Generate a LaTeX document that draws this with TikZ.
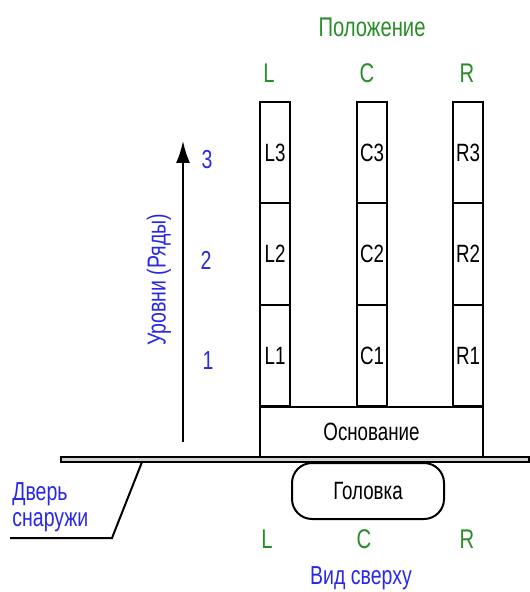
\documentclass[tikz,border=0pt]{standalone}
\usepackage{fontspec}
\setmainfont{Liberation Sans}[FakeStretch=0.75]
\usetikzlibrary{arrows.meta}
\definecolor{posgreen}{RGB}{40,140,40}
\definecolor{lvlblue}{RGB}{40,40,230}
\tikzset{
  cell/.style={draw, line width=1pt, minimum width=15.3pt, minimum height=50.7pt, inner sep=0pt, font=\fontsize{12.5}{14}\selectfont},
  basebox/.style={draw, line width=1pt, minimum width=111.5pt, minimum height=25pt, inner sep=0pt, font=\fontsize{12.5}{14}\selectfont},
  headbox/.style={draw, line width=1pt, rounded corners=10pt, minimum width=76pt, minimum height=28pt, inner sep=0pt, font=\fontsize{12.5}{14}\selectfont},
  glabel/.style={text=posgreen, font=\fontsize{13.5}{15}\selectfont, inner sep=0pt},
  blabel/.style={text=lvlblue, font=\fontsize{13}{15}\selectfont, inner sep=0pt},
  bnum/.style={text=lvlblue, font=\fontsize{13}{15}\selectfont, inner sep=0pt},
  wall/.style={line width=0.8pt},
}
\begin{document}
\begin{tikzpicture}[x=0.5pt,y=-0.5pt]
\useasboundingbox (0,0) rectangle (529,592);
% columns
\node[cell] (L3) at (275,152.5) {L3};
\node[cell] (L2) at (275,254) {L2};
\node[cell] (L1) at (275,355.5) {L1};
\node[cell] (C3) at (372,152.5) {C3};
\node[cell] (C2) at (372,254) {C2};
\node[cell] (C1) at (372,355.5) {C1};
\node[cell] (R3) at (468,152.5) {R3};
\node[cell] (R2) at (468,254) {R2};
\node[cell] (R1) at (468,355.5) {R1};
\node[basebox] (base) at (371.5,431.5) {Основание};
% ground / wall
\filldraw[wall, fill=gray!35] (61,457) rectangle (529,462);
\node[headbox] (head) at (368,491) {Головка};
% door leader
\coordinate (d1) at (142,462);
\coordinate (d2) at (112,538);
\coordinate (d3) at (10,538);
\draw[line width=1pt] (d1) -- (d2) -- (d3);
\node[blabel, anchor=west] (door1) at (12,494) {Дверь};
\node[blabel, anchor=west] (door2) at (12,522) {снаружи};
% top labels
\node[glabel] (pos) at (372,27) {Положение};
\node[glabel] (tL) at (269,73) {L};
\node[glabel] (tC) at (367,73) {C};
\node[glabel] (tR) at (467,73) {R};
% bottom labels
\node[glabel] (bL) at (267,539) {L};
\node[glabel] (bC) at (364,539) {C};
\node[glabel] (bR) at (467,539) {R};
\node[blabel] (view) at (361,578) {Вид сверху};
% level arrow
\coordinate (a0) at (183,442);
\coordinate (a1) at (183,141);
\draw[line width=1pt, -{Latex[length=11pt,width=7pt]}] (a0) -- (a1);
\node[bnum] (n3) at (207,160) {3};
\node[bnum] (n2) at (206,260) {2};
\node[bnum] (n1) at (208,361) {1};
\node[blabel, rotate=90] (lvl) at (159,280) {Уровни (Ряды)};
\end{tikzpicture}
\end{document}
